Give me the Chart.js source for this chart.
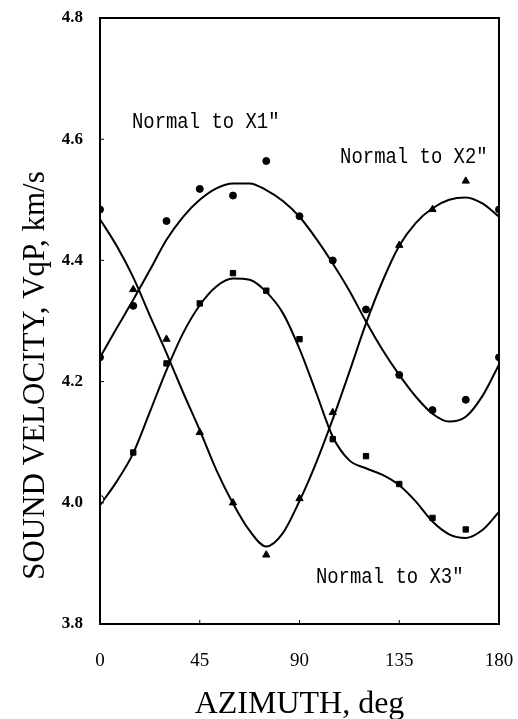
<!DOCTYPE html>
<html>
<head>
<meta charset="utf-8">
<script src="https://cdn.jsdelivr.net/npm/chart.js@4/dist/chart.umd.min.js"></script>
<style>
  html, body { margin: 0; padding: 0; background: #fff; }
  #wrap { width: 518px; height: 719px; position: relative; }
</style>
</head>
<body>
<div id="wrap"><canvas id="c" width="518" height="719"></canvas></div>
<script>
// ---- data ----
const xTicks = [0, 45, 90, 135, 180];
const yTicks = [3.8, 4.0, 4.2, 4.4, 4.6, 4.8];

// fitted curves
const curveAzimuth = [0, 7.5, 15, 22.5, 30, 37.5, 45, 52.5, 60, 67.5, 75, 82.5, 90,
                      97.5, 105, 112.5, 120, 127.5, 135, 142.5, 150, 157.5, 165, 172.5, 180];
const curveX1 = [4.240, 4.288, 4.335, 4.384, 4.434, 4.472, 4.500, 4.519, 4.527, 4.527, 4.516, 4.498, 4.472,
                 4.436, 4.395, 4.350, 4.299, 4.252, 4.211, 4.175, 4.147, 4.134, 4.142, 4.176, 4.228];
const curveX2 = [4.468, 4.424, 4.372, 4.309, 4.247, 4.182, 4.120, 4.054, 3.999, 3.954, 3.928, 3.950, 4.003,
                 4.066, 4.138, 4.216, 4.296, 4.366, 4.424, 4.462, 4.486, 4.500, 4.504, 4.494, 4.472];
const curveX3 = [3.996, 4.035, 4.082, 4.150, 4.219, 4.280, 4.326, 4.357, 4.370, 4.368, 4.348, 4.313, 4.254,
                 4.182, 4.109, 4.070, 4.057, 4.046, 4.029, 4.002, 3.969, 3.948, 3.942, 3.955, 3.985];

// measured points
const azX1 = [0, 15, 30, 45, 60, 75, 90, 105, 120, 135, 150, 165, 180];
const velX1 = [4.240, 4.325, 4.465, 4.518, 4.507, 4.564, 4.473, 4.400, 4.319, 4.211, 4.153, 4.170, 4.240];
const azX2 = [0, 15, 30, 45, 60, 75, 90, 105, 135, 150, 165, 180];
const velX2 = [4.484, 4.352, 4.270, 4.116, 4.000, 3.914, 4.007, 4.149, 4.425, 4.484, 4.531, 4.484];
const azX3 = [0, 15, 30, 45, 60, 75, 90, 105, 120, 135, 150, 165];
const velX3 = [4.006, 4.083, 4.230, 4.329, 4.379, 4.350, 4.270, 4.105, 4.077, 4.031, 3.975, 3.956];

const labels = [
  { text: 'Normal to X1"', x: 14.4, y: 4.628 },
  { text: 'Normal to X2"', x: 108.3, y: 4.571 },
  { text: 'Normal to X3"', x: 97.4, y: 3.878 }
];
const xTitle = 'AZIMUTH, deg';
const yTitle = 'SOUND VELOCITY, VqP, km/s';

// ---- build datasets ----
const pts = (xs, ys) => xs.map((x, i) => ({ x: x, y: ys[i] }));
const curveDs = (ys) => ({
  type: 'line', data: pts(curveAzimuth, ys), borderColor: '#000', borderWidth: 2,
  pointRadius: 0, cubicInterpolationMode: 'monotone', fill: false, order: 2
});
const markDs = (xs, ys, style, radius) => ({
  type: 'scatter', data: pts(xs, ys), showLine: false,
  pointStyle: style, pointRadius: radius, backgroundColor: '#000', borderColor: '#000',
  borderWidth: 1, order: 1
});

const x2Styles = azX2.map(a => (a === 0 || a === 180) ? 'circle' : 'triangle');
const x2Radii = azX2.map(a => (a === 0 || a === 180) ? 3.5 : 4.2);
const x3Styles = azX3.map(a => a === 0 ? 'circle' : 'rect');
const x3Bg = azX3.map(a => a === 0 ? '#fff' : '#000');

const frame = {
  id: 'frame',
  afterDatasetsDraw(chart) {
    const { ctx, chartArea: a, scales } = chart;
    ctx.save();
    ctx.strokeStyle = '#000';
    ctx.lineWidth = 2;
    ctx.strokeRect(a.left, a.top, a.right - a.left, a.bottom - a.top);
    // small inward tick marks
    ctx.lineWidth = 1;
    ctx.beginPath();
    scales.x.ticks.forEach(t => {
      const px = scales.x.getPixelForValue(t.value);
      ctx.moveTo(px, a.bottom); ctx.lineTo(px, a.bottom - 4);
    });
    scales.y.ticks.forEach(t => {
      const py = scales.y.getPixelForValue(t.value);
      ctx.moveTo(a.left, py); ctx.lineTo(a.left + 4, py);
    });
    ctx.stroke();
    // annotation labels
    ctx.fillStyle = '#000';
    ctx.font = '22px "Liberation Mono"';
    ctx.textBaseline = 'middle';
    ctx.textAlign = 'left';
    labels.forEach(l => {
      const px = scales.x.getPixelForValue(l.x);
      const py = scales.y.getPixelForValue(l.y);
      ctx.save();
      ctx.translate(px, py);
      ctx.scale(0.86, 1);
      ctx.fillText(l.text, 0, 0);
      ctx.restore();
    });
    // axis titles
    ctx.textAlign = 'center';
    ctx.textBaseline = 'alphabetic';
    ctx.font = '32px "Liberation Serif"';
    ctx.fillText(xTitle, (a.left + a.right) / 2, 713);
    ctx.font = '31px "Liberation Serif"';
    ctx.save();
    ctx.translate(44, a.top + 0.59 * (a.bottom - a.top));
    ctx.rotate(-Math.PI / 2);
    ctx.fillText(yTitle, 0, 0);
    ctx.restore();
    ctx.restore();
  }
};

new Chart(document.getElementById('c'), {
  data: {
    datasets: [
      curveDs(curveX1), curveDs(curveX2), curveDs(curveX3),
      markDs(azX1, velX1, 'circle', 3.5),
      markDs(azX2, velX2, x2Styles, x2Radii),
      Object.assign(markDs(azX3, velX3, x3Styles, 3.8), { backgroundColor: x3Bg })
    ]
  },
  options: {
    responsive: false,
    animation: false,
    devicePixelRatio: 1,
    layout: { padding: { top: 18, right: 19, left: 0, bottom: 0 } },
    plugins: { legend: { display: false }, tooltip: { enabled: false } },
    scales: {
      x: {
        type: 'linear', min: 0, max: 180,
        afterBuildTicks: s => { s.ticks = xTicks.map(v => ({ value: v })); },
        afterFit: s => { s.height = 95; s.paddingLeft = 0; s.paddingRight = 0; },
        grid: { display: false, drawTicks: false },
        border: { display: false },
        ticks: { color: '#000', padding: 26, maxRotation: 0, font: { family: 'Liberation Serif', size: 19 } }
      },
      y: {
        type: 'linear', min: 3.8, max: 4.8,
        afterBuildTicks: s => { s.ticks = yTicks.map(v => ({ value: v })); },
        afterFit: s => { s.width = 100; s.paddingTop = 0; s.paddingBottom = 0; },
        grid: { display: false, drawTicks: false },
        border: { display: false },
        ticks: { color: '#000', padding: 17, callback: v => v.toFixed(1),
                 font: { family: 'Liberation Serif', size: 17, weight: 'bold' } }
      }
    }
  },
  plugins: [frame]
});
</script>
</body>
</html>
